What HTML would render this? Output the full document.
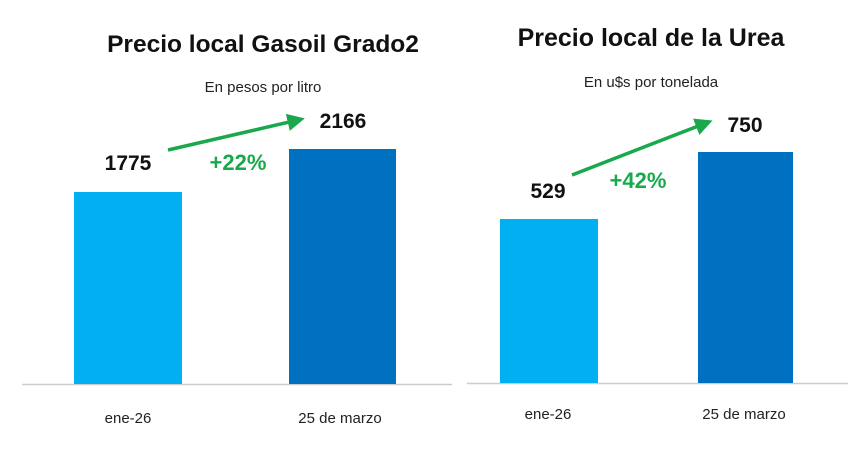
<!DOCTYPE html><html><head><style>body{margin:0;background:#fff}svg{display:block}</style></head><body>
<svg width="866" height="463" xmlns="http://www.w3.org/2000/svg" font-family="Liberation Sans, sans-serif">
<defs><marker id="a" markerWidth="6" markerHeight="6" refX="3" refY="3" orient="auto" markerUnits="strokeWidth"><path d="M0,0.5 L5,3 L0,5.5z" fill="#1aa84c"/></marker></defs>
<text x="263" y="52" text-anchor="middle" font-size="24.5" font-weight="bold" fill="#111">Precio local Gasoil Grado2</text>
<text x="263" y="92" text-anchor="middle" font-size="15" fill="#222">En pesos por litro</text>
<line x1="22" y1="384.5" x2="452" y2="384.5" stroke="#ccc" stroke-width="1.5"/>
<rect x="74" y="192" width="108" height="192" fill="#00b0f0"/>
<rect x="289" y="149" width="107" height="235" fill="#0070c0"/>
<text x="128" y="170" text-anchor="middle" font-size="21" font-weight="bold" fill="#111">1775</text>
<text x="343" y="128" text-anchor="middle" font-size="21" font-weight="bold" fill="#111">2166</text>
<text x="238" y="170" text-anchor="middle" font-size="22" font-weight="bold" fill="#1aa84c">+22%</text>
<line x1="168" y1="150" x2="298" y2="120" stroke="#1aa84c" stroke-width="3.5" marker-end="url(#a)"/>
<text x="128" y="423" text-anchor="middle" font-size="15" fill="#222">ene-26</text>
<text x="340" y="423" text-anchor="middle" font-size="15" fill="#222">25 de marzo</text>

<text x="651" y="46" text-anchor="middle" font-size="25" font-weight="bold" fill="#111">Precio local de la Urea</text>
<text x="651" y="87" text-anchor="middle" font-size="15" fill="#222">En u$s por tonelada</text>
<line x1="467" y1="383.5" x2="848" y2="383.5" stroke="#ccc" stroke-width="1.5"/>
<rect x="500" y="219" width="98" height="164" fill="#00b0f0"/>
<rect x="698" y="152" width="95" height="231" fill="#0070c0"/>
<text x="548" y="198" text-anchor="middle" font-size="21" font-weight="bold" fill="#111">529</text>
<text x="745" y="132" text-anchor="middle" font-size="21" font-weight="bold" fill="#111">750</text>
<text x="638" y="188" text-anchor="middle" font-size="22" font-weight="bold" fill="#1aa84c">+42%</text>
<line x1="572" y1="175" x2="706" y2="123" stroke="#1aa84c" stroke-width="3.5" marker-end="url(#a)"/>
<text x="548" y="419" text-anchor="middle" font-size="15" fill="#222">ene-26</text>
<text x="744" y="419" text-anchor="middle" font-size="15" fill="#222">25 de marzo</text>
</svg></body></html>
